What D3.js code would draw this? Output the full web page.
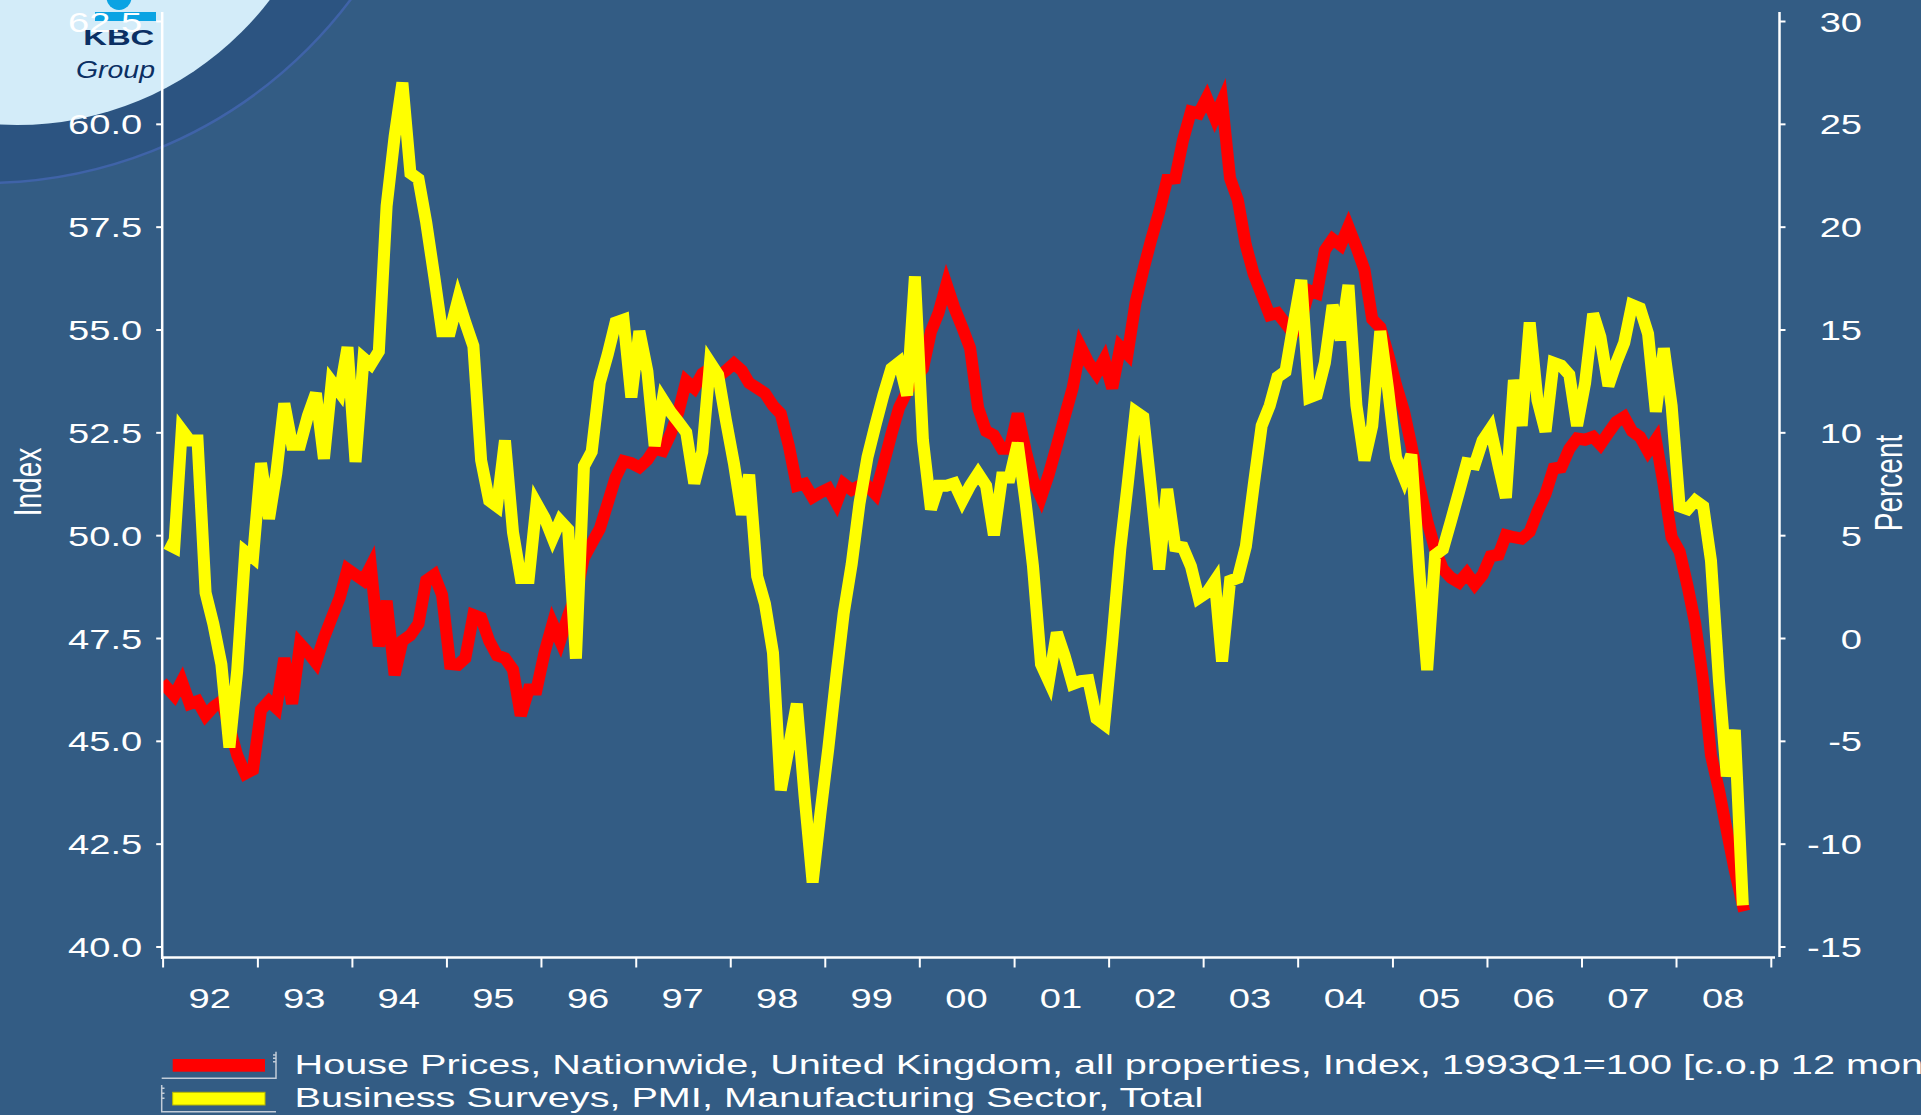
<!DOCTYPE html>
<html><head><meta charset="utf-8">
<script src="https://cdn.jsdelivr.net/npm/d3@7"></script>
<style>html,body{margin:0;padding:0;background:#335c84;overflow:hidden}svg{display:block}</style>
</head><body>
<svg id="chart" width="1921" height="1115"></svg>
<script>
// ---------------- DATA ----------------
const firstYear = 1992;
const yearLabels = ["92","93","94","95","96","97","98","99","00","01","02","03","04","05","06","07","08"];
const leftTicks = [40, 42.5, 45, 47.5, 50, 52.5, 55, 57.5, 60, 62.5];
const rightTicks = [-15, -10, -5, 0, 5, 10, 15, 20, 25, 30];
const seriesNames = [
  "House Prices, Nationwide, United Kingdom, all properties, Index, 1993Q1=100 [c.o.p 12 months]",
  "Business Surveys, PMI, Manufacturing Sector, Total"
];
// House prices, % change over 12 months (right axis), monthly from Jan 1992
const housePricePct = [
 -2.37,-2.8,-2.1,-3.2,-3.07,-3.77,-3.35,-3.07,-4.33,-5.7,
 -6.6,-6.4,-3.5,-3.07,-3.4,-0.98,-3.2,-0.28,-0.7,-1.2,
 0.0,0.98,1.96,3.35,3.07,2.8,3.5,-0.4,1.8,-1.8,
 -0.14,0.14,0.7,2.8,3.07,2.1,-1.26,-1.3,-0.98,1.12,
 0.98,-0.14,-0.84,-0.98,-1.54,-3.77,-2.5,-2.5,-0.7,0.7,
 -0.14,1.1,2.1,3.9,4.6,5.3,6.56,7.8,8.6,8.5,
 8.3,8.66,9.2,9.1,9.9,11.0,12.5,12.15,12.85,13.1,
 12.7,13.0,13.35,13.0,12.4,12.15,11.9,11.3,10.9,9.36,
 7.4,7.5,6.84,7.07,7.26,6.56,7.5,7.2,7.4,7.4,
 7.0,8.4,9.9,11.2,12.0,12.6,13.1,14.9,15.8,17.2,
 16.06,15.1,14.1,11.2,10.06,9.86,9.2,9.2,10.9,9.1,
 7.7,6.84,7.96,9.36,10.75,12.15,14.16,13.4,12.85,13.55,
 12.15,14.16,13.8,16.3,17.9,19.4,20.7,22.3,22.35,24.2,
 25.6,25.5,26.26,25.3,26.1,22.35,21.3,19.1,17.7,16.7,
 15.7,15.8,15.3,14.8,15.5,16.9,16.76,18.85,19.4,19.1,
 20.0,19.0,17.9,15.5,15.1,13.8,12.3,11.0,9.36,7.4,
 5.7,4.3,3.35,2.93,2.7,3.15,2.6,3.07,3.97,4.05,
 5.0,4.9,4.83,5.17,6.15,7.0,8.24,8.3,9.2,9.7,
 9.64,9.78,9.4,9.97,10.5,10.75,10.06,9.78,9.08,9.64,
 7.4,4.9,4.2,2.5,0.7,-2.1,-5.7,-7.4,-9.36,-11.3,
 -13.0
];
// PMI manufacturing index (left axis), monthly from Jan 1992
const pmiIndex = [
 49.8,49.7,52.56,52.3,52.3,48.6,47.84,46.86,44.84,46.7,
 49.6,49.45,51.75,50.4,51.5,53.2,52.2,52.2,52.9,53.45,
 51.86,53.73,53.47,54.57,51.78,54.3,54.15,54.47,58.0,59.7,
 61.0,58.8,58.66,57.6,56.29,54.96,54.96,55.73,55.17,54.6,
 51.82,50.84,50.7,52.3,50.07,48.96,48.96,50.77,50.42,49.93,
 50.35,50.14,47.0,51.68,52.03,53.7,54.4,55.17,55.24,53.35,
 54.96,53.98,52.17,53.3,53.0,52.75,52.5,51.26,52.03,54.2,
 53.9,52.8,51.75,50.5,51.47,49.0,48.33,47.14,43.8,44.84,
 45.9,43.65,41.56,43.23,44.84,46.6,48.1,49.3,50.77,51.9,
 52.66,53.4,54.05,54.2,53.4,56.29,52.3,50.63,51.2,51.2,
 51.26,50.84,51.2,51.5,51.2,50.0,51.4,51.4,52.24,50.77,
 49.24,46.86,46.45,47.63,47.07,46.38,46.45,46.47,45.54,45.4,
 47.42,49.66,51.2,53.0,52.87,51.05,49.17,51.12,49.73,49.7,
 49.24,48.47,48.6,48.89,46.93,48.89,48.96,49.73,51.2,52.66,
 53.15,53.84,53.98,55.1,56.2,53.35,53.42,54.19,55.59,54.75,
 56.08,53.15,51.82,52.66,54.96,53.56,51.89,51.4,51.96,49.1,
 46.72,49.52,49.66,50.35,51.05,51.75,51.72,52.3,52.59,51.68,
 50.91,53.77,52.66,55.17,53.28,52.52,54.19,54.12,53.9,52.66,
 53.7,55.38,54.82,53.63,54.19,54.68,55.6,55.52,54.9,53.0,
 54.54,53.15,50.7,50.63,50.84,50.7,49.38,46.45,44.14,45.26,
 41.0
];

// ---------------- LAYOUT ----------------
const W = 1921, H = 1115;
const FONT = "'Liberation Sans', Arial, Helvetica, sans-serif";
const SX = 1.36; // horizontal stretch of the original text
const plotL = 162.2, plotR = 1779.5, plotTop = 12, plotBottom = 957.5;
const LINE_W = 12;

const svg = d3.select("#chart");
svg.append("rect").attr("width", W).attr("height", H).attr("fill", "#335c84");

// corner decoration
const deco = svg.append("g");
deco.append("circle").attr("cx", -16).attr("cy", -275).attr("r", 458)
  .attr("fill", "#2c5481").attr("stroke", "#3f63a8").attr("stroke-width", 2.5);
deco.append("circle").attr("cx", 17).attr("cy", -193).attr("r", 318).attr("fill", "#d3ecf9");

// scales
const x = d3.scaleTime().domain([new Date(firstYear, 0, 1), new Date(firstYear + yearLabels.length, 0, 1)]).range([162.6, 1770.8]);
const yL = d3.scaleLinear().domain([40, 62.5]).range([946.5, 21]);
const yR = d3.scaleLinear().domain([-15, 30]).range([946.5, 21]);
const monthDate = i => new Date(firstYear, i, 15);

// logo (under the axis text)
const logo = svg.append("g");
logo.append("rect").attr("x", 95).attr("y", 12).attr("width", 61).attr("height", 9).attr("fill", "#0ba3e3");
logo.append("circle").attr("cx", 119).attr("cy", -2.5).attr("r", 12.5).attr("fill", "#0ba3e3");
logo.append("text").attr("x", 83.3).attr("y", 45).attr("font-family", FONT).attr("font-weight", 900)
  .attr("font-size", 22).attr("fill", "#0b2f63").attr("textLength", 71).attr("lengthAdjust", "spacingAndGlyphs").text("KBC");
logo.append("text").attr("x", 76).attr("y", 77.5).attr("font-family", FONT).attr("font-style", "italic")
  .attr("font-size", 23).attr("fill", "#0b2f63").attr("textLength", 79).attr("lengthAdjust", "spacingAndGlyphs").text("Group");

// lines
svg.append("defs").append("clipPath").attr("id", "plotclip").append("rect")
  .attr("x", 162.6).attr("y", 0).attr("width", plotR - 162.6).attr("height", plotBottom);
const plot = svg.append("g").attr("clip-path", "url(#plotclip)");
plot.append("path").datum(housePricePct)
  .attr("d", d3.line().x((d, i) => x(monthDate(i))).y(d => yR(d)))
  .attr("fill", "none").attr("stroke", "#ff0000").attr("stroke-width", LINE_W).attr("stroke-linecap", "square");
plot.append("path").datum(pmiIndex)
  .attr("d", d3.line().x((d, i) => x(monthDate(i))).y(d => yL(d)))
  .attr("fill", "none").attr("stroke", "#ffff00").attr("stroke-width", LINE_W).attr("stroke-linecap", "butt");

// axes
function styleAxis(g) {
  g.attr("font-size", null).attr("font-family", null);
  g.select(".domain").remove();
  g.selectAll(".tick line").attr("stroke", "#fff").attr("stroke-width", 2);
  g.selectAll(".tick text").attr("fill", "#fff").attr("font-size", 28).attr("font-family", FONT)
    .attr("x", null).attr("dy", null).attr("y", null);
}
const gL = svg.append("g").attr("transform", `translate(${plotL},0)`)
  .call(d3.axisLeft(yL).tickValues(leftTicks).tickSize(6).tickFormat(d3.format(".1f")));
styleAxis(gL);
gL.selectAll(".tick text").attr("text-anchor", "end").attr("transform", `translate(-20,10) scale(${SX},1)`);

const gR = svg.append("g").attr("transform", `translate(${plotR},0)`)
  .call(d3.axisRight(yR).tickValues(rightTicks).tickSize(6).tickFormat(d => (d < 0 ? "-" + Math.abs(d) : String(d))));
styleAxis(gR);
gR.selectAll(".tick text").attr("text-anchor", "end").attr("transform", `translate(82.5,10) scale(${SX},1)`);

const gB = svg.append("g").attr("transform", `translate(0,${plotBottom})`)
  .call(d3.axisBottom(x).ticks(d3.timeYear.every(1)).tickSize(10).tickFormat(() => ""));
styleAxis(gB);

svg.append("g").selectAll("text").data(yearLabels).join("text")
  .attr("transform", (d, i) => `translate(${x(new Date(firstYear + i, 6, 1))},1008) scale(${SX},1)`)
  .attr("text-anchor", "middle").attr("fill", "#fff").attr("font-size", 28).attr("font-family", FONT)
  .text(d => d);

// axis lines
const axl = svg.append("g").attr("stroke", "#fff").attr("stroke-width", 2.5);
axl.append("line").attr("x1", plotL).attr("x2", plotL).attr("y1", plotTop).attr("y2", 959);
axl.append("line").attr("x1", plotR).attr("x2", plotR).attr("y1", plotTop).attr("y2", 957);
axl.append("line").attr("x1", plotL).attr("x2", 1775).attr("y1", plotBottom).attr("y2", plotBottom);

// axis titles
svg.append("text").attr("transform", `translate(27,482) scale(1.4,1) rotate(-90)`)
  .attr("text-anchor", "middle").attr("dy", "0.35em").attr("fill", "#fff")
  .attr("font-size", 28).attr("font-family", FONT).text("Index");
svg.append("text").attr("transform", `translate(1888,483) scale(1.4,1) rotate(-90)`)
  .attr("text-anchor", "middle").attr("dy", "0.35em").attr("fill", "#fff")
  .attr("font-size", 28).attr("font-family", FONT).text("Percent");

// legend
const legColors = ["#ff0000", "#ffff00"];
const leg = svg.append("g");
const rowY = [1059, 1092.3];
const baseY = [1074, 1107];
leg.selectAll("rect").data(seriesNames).join("rect")
  .attr("x", 172.7).attr("y", (d, i) => rowY[i]).attr("width", 92.3).attr("height", 12.7)
  .attr("fill", (d, i) => legColors[i]).attr("stroke", (d, i) => i ? "#b8b800" : "none").attr("stroke-width", 1);
const frame = leg.append("g").attr("stroke", "#c2ccd8").attr("stroke-width", 1.5).attr("fill", "none");
frame.append("path").attr("d", "M161.7,1078.3 H276 V1051.7 M273,1055 H276 M273,1058.3 H276 M273,1061.7 H276");
frame.append("path").attr("d", "M161.7,1085 V1111.7 H276 M161.7,1088.3 H164.5 M161.7,1093.3 H164.5 M161.7,1098.3 H164.5");
const legText = leg.selectAll("text").data(seriesNames).join("text")
  .attr("fill", "#fff").attr("font-size", 28).attr("font-family", FONT).text(d => d);
const natural = legText.nodes()[1].getComputedTextLength();
const lsx = 909 / natural;
legText.attr("transform", (d, i) => `translate(294.6,${baseY[i]}) scale(${lsx},1)`);
</script>
</body></html>
